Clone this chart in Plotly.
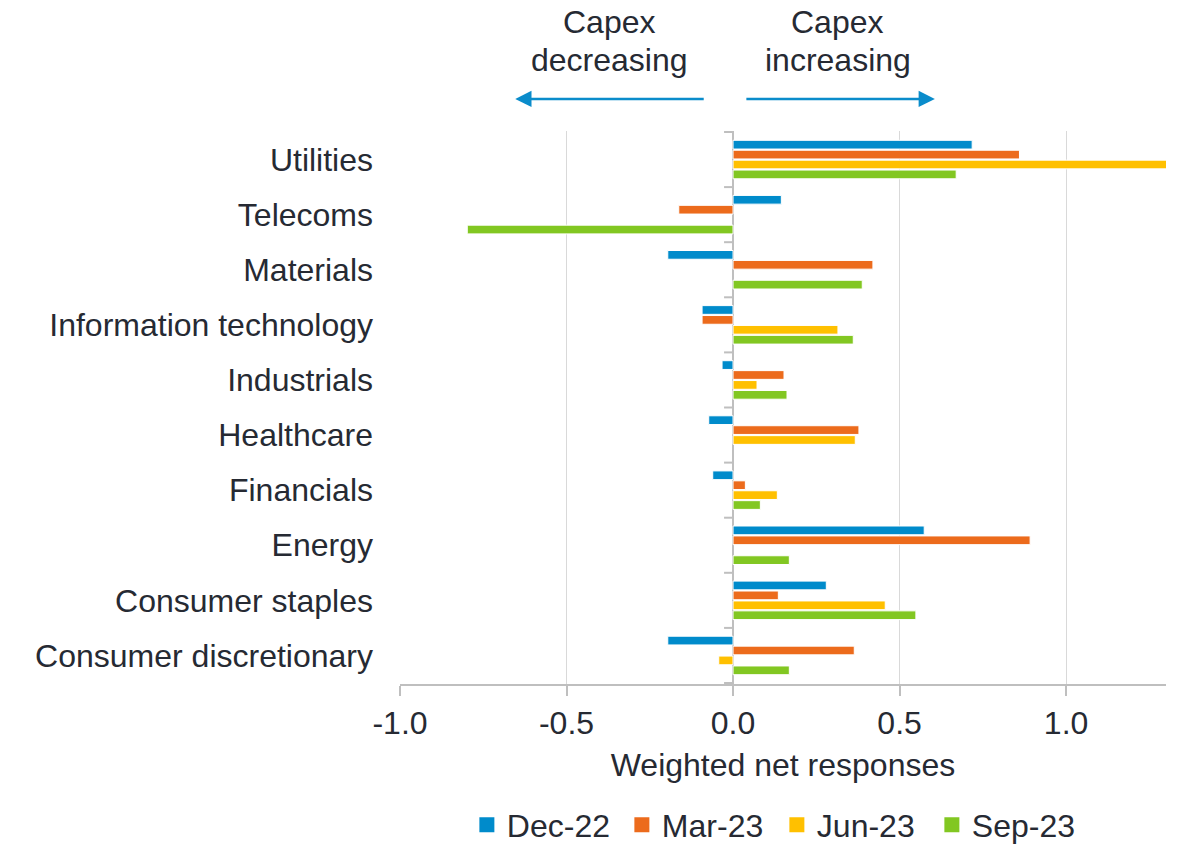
import plotly.graph_objects as go

categories = ["Utilities", "Telecoms", "Materials", "Information technology", "Industrials",
              "Healthcare", "Financials", "Energy", "Consumer staples", "Consumer discretionary"]
series_names = ["Dec-22", "Mar-23", "Jun-23", "Sep-23"]
dec22 = [0.718, 0.145, -0.196, -0.093, -0.033, -0.073, -0.061, 0.574, 0.280, -0.196]
mar23 = [0.860, -0.163, 0.420, -0.093, 0.153, 0.378, 0.037, 0.892, 0.136, 0.364]
jun23 = [1.320, None, None, 0.315, 0.072, 0.367, 0.133, None, 0.457, -0.043]
sep23 = [0.670, -0.798, 0.388, 0.361, 0.162, None, 0.082, 0.169, 0.549, 0.169]
colors = ["#008BCB", "#EC6B1C", "#FFC000", "#82C722"]
x_ticks = [-1.0, -0.5, 0.0, 0.5, 1.0]
x_ticktext = ["-1.0", "-0.5", "0.0", "0.5", "1.0"]

FONT = "Liberation Sans, Arial, sans-serif"
TXT = "#262A33"
GRID = "#D9D9D9"
AX = "#BFBFBF"
FS = 32

fig = go.Figure()
for name, vals, col in zip(series_names, [dec22, mar23, jun23, sep23], colors):
    fig.add_trace(go.Bar(
        y=categories, x=vals, name=name, orientation="h", showlegend=False,
        marker=dict(color=col, line=dict(color="white", width=1)),
    ))
# legend entries with larger square symbols
for name, col in zip(series_names, colors):
    fig.add_trace(go.Scatter(
        x=[None], y=[None], name=name, mode="markers",
        marker=dict(symbol="square", size=15, color=col), showlegend=True,
    ))

# small tick marks on the zero line at category boundaries
for i in range(len(categories) + 1):
    fig.add_shape(type="line", xref="x", yref="y",
                  x0=-0.027, x1=0, y0=i - 0.5, y1=i - 0.5,
                  line=dict(color=AX, width=2), layer="above")

# direction arrows
fig.add_annotation(xref="x", yref="paper", x=-0.654, y=1.058, ax=190, ay=0,
                   text="", showarrow=True, arrowhead=2, arrowsize=1.3,
                   arrowwidth=2.5, arrowcolor="#0A8CCB")
fig.add_annotation(xref="x", yref="paper", x=0.606, y=1.058, ax=-190, ay=0,
                   text="", showarrow=True, arrowhead=2, arrowsize=1.3,
                   arrowwidth=2.5, arrowcolor="#0A8CCB")
for xpos, words in [(-0.37, ["Capex", "decreasing"]), (0.315, ["Capex", "increasing"])]:
    for ypos, w in zip([1.197, 1.128], words):
        fig.add_annotation(xref="x", yref="paper", x=xpos, y=ypos, text=w,
                           showarrow=False, yanchor="middle", xanchor="center",
                           font=dict(size=FS, color=TXT, family=FONT))

fig.update_layout(
    width=1183, height=844,
    margin=dict(l=400, r=17, t=131, b=160, autoexpand=False),
    paper_bgcolor="white", plot_bgcolor="white",
    font=dict(family=FONT, size=FS, color=TXT),
    barmode="group", bargap=0.28, bargroupgap=0.12,
    showlegend=True,
    legend=dict(orientation="h", x=0.492, xanchor="center", y=-0.255, yanchor="middle",
                font=dict(size=FS, color=TXT), traceorder="normal",
                itemwidth=30, tracegroupgap=0, entrywidth=110, entrywidthmode="pixels"),
    xaxis=dict(range=[-1.0, 1.3], tickvals=x_ticks, ticktext=x_ticktext,
               showgrid=True, gridcolor=GRID, gridwidth=1,
               zeroline=True, zerolinecolor=AX, zerolinewidth=2,
               showline=True, linecolor=AX, linewidth=2,
               ticks="outside", ticklen=10, tickcolor=AX, tickwidth=2,
               tickfont=dict(size=FS, color=TXT), automargin=False,
               title=dict(text="Weighted net responses", font=dict(size=FS, color=TXT), standoff=13)),
    yaxis=dict(autorange="reversed", showgrid=False, showline=False, zeroline=False,
               ticks="", ticklabelstandoff=26, tickfont=dict(size=FS, color=TXT),
               automargin=False),
)

fig.write_html("out.html")
